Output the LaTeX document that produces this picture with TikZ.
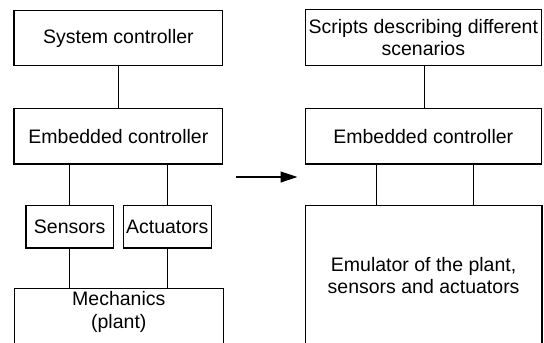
\documentclass[tikz,border=0pt]{standalone}
\usepackage{fontspec}
\setmainfont{Liberation Sans}
\usetikzlibrary{arrows.meta}
\begin{document}
\begin{tikzpicture}[x=1pt,y=-1pt,
  box/.style={draw,line width=1.2pt,rectangle,inner sep=0pt,align=center,font=\fontsize{19.5}{22.5}\selectfont},
  txt/.style={inner sep=0pt,align=center,font=\fontsize{19.5}{22.5}\selectfont},
  wire/.style={line width=1.2pt}]
\useasboundingbox (0,0) rectangle (544,343);
\clip (0,0) rectangle (544,343);
% left column
\node[box,minimum width=208.7pt,minimum height=55pt] (sys) at (118.4,38.2) {System controller};
\node[box,minimum width=208.7pt,minimum height=55.7pt] (emb) at (118.4,136.2) {Embedded controller};
\node[box,minimum width=87.3pt,minimum height=42.7pt] (sens) at (69.7,226.7) {Sensors};
\node[box,minimum width=88pt,minimum height=42.7pt] (act) at (167.3,226.7) {Actuators};
\node[box,minimum width=208.7pt,minimum height=70pt] (mech) at (118.8,323.7) {};
\node[txt] (mechtext) at (118.8,312) {Mechanics\\(plant)};
\draw[wire] (sys.south) -- (emb.north);
\draw[wire] (sens.north) -- (sens.north |- emb.south);
\draw[wire] (act.north) -- (act.north |- emb.south);
\draw[wire] (sens.south) -- (sens.south |- mech.north);
\draw[wire] (act.south) -- (act.south |- mech.north);
% arrow
\coordinate (a1) at (236,177);
\coordinate (a2) at (297.5,177);
\draw[wire,-{Triangle[length=17pt,width=11pt]}] (a1) -- (a2);
% right column
\node[box,minimum width=236pt,minimum height=56.4pt] (scr) at (423.3,37.5) {Scripts describing different\\scenarios};
\node[box,minimum width=236pt,minimum height=55.7pt] (emb2) at (423.3,136.2) {Embedded controller};
\node[box,minimum width=236.7pt,minimum height=140.7pt] (emu) at (423.6,275.6) {Emulator of the plant,\\sensors and actuators};
\draw[wire] (scr.south -| 424.7,0) -- (emb2.north -| 424.7,0);
\coordinate (l1) at (376.3,0);
\coordinate (l2) at (473.7,0);
\draw[wire] (emb2.south -| l1) -- (emu.north -| l1);
\draw[wire] (emb2.south -| l2) -- (emu.north -| l2);
\end{tikzpicture}
\end{document}
